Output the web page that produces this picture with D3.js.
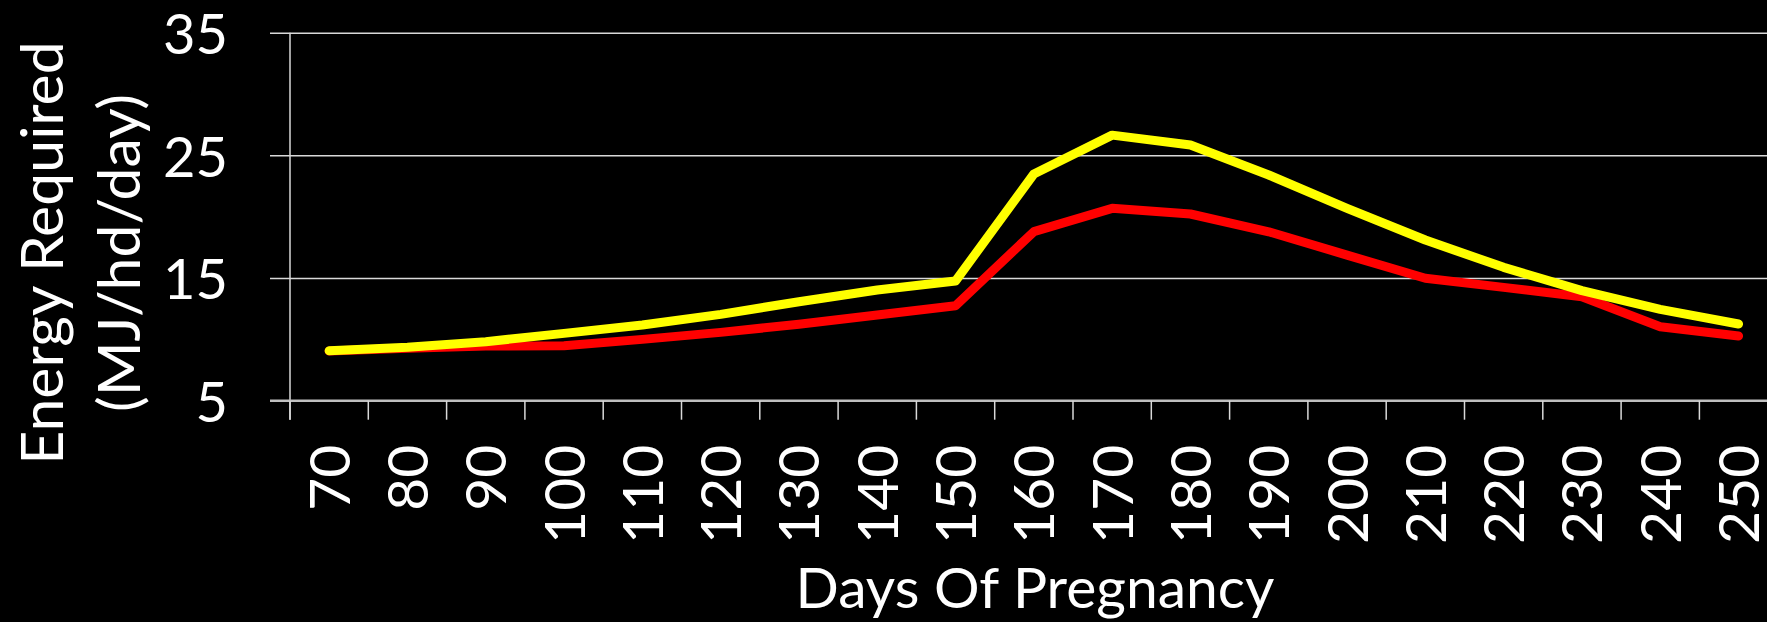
<!DOCTYPE html>
<html>
<head>
<meta charset="utf-8">
<script src="https://cdn.jsdelivr.net/npm/d3@7"></script>
<style>
  html, body { margin: 0; padding: 0; background: #000; overflow: hidden; }
  .chart text { font-family: Lato, "Open Sans", sans-serif; fill: #fff; }
</style>
</head>
<body>
<div class="chart"></div>
<script>
// days of pregnancy (categories)
var days = [70, 80, 90, 100, 110, 120, 130, 140, 150, 160, 170, 180, 190, 200, 210, 220, 230, 240, 250];

// energy required, MJ/hd/day
var yellowSeries = [9.07, 9.35, 9.81, 10.49, 11.17, 12.04, 13.07, 14.02, 14.76, 23.48, 26.65, 25.84, 23.4, 20.68, 18.1, 15.87, 13.97, 12.45, 11.25];
var redSeries = [9.05, 9.27, 9.46, 9.48, 10.0, 10.57, 11.23, 11.98, 12.74, 18.78, 20.68, 20.22, 18.77, 16.87, 14.98, 14.24, 13.48, 11.03, 10.27];

var yTicks = [5, 15, 25, 35];

var svgWidth = 1767;
var svgHeight = 622;

var margin = { top: 32.7, left: 290 };
var plotHeight = 368;
var bandW = 78.3;
var plotWidth = bandW * days.length;

var svg = d3.select(".chart")
  .append("svg")
  .attr("width", svgWidth)
  .attr("height", svgHeight);

var chart = svg.append("g")
  .attr("transform", "translate(" + margin.left + "," + margin.top + ")");

var xScale = d3.scaleBand()
  .domain(days)
  .range([0, plotWidth])
  .padding(0);

var yScale = d3.scaleLinear()
  .domain([5, 35])
  .range([plotHeight, 0]);

// gridlines + y labels
var leftAxis = d3.axisLeft(yScale)
  .tickValues(yTicks)
  .tickSize(-(plotWidth + 20))
  .tickPadding(42);

var yAxisG = chart.append("g")
  .attr("transform", "translate(-20,0)")
  .call(leftAxis);
yAxisG.select(".domain").remove();
yAxisG.selectAll(".tick line")
  .attr("stroke", "#d9d9d9")
  .attr("stroke-width", 1.5);
yAxisG.selectAll(".tick text")
  .attr("font-size", 56)
  .attr("dy", "0.37em");

// vertical axis line
chart.append("line")
  .attr("x1", 0).attr("x2", 0)
  .attr("y1", 0).attr("y2", plotHeight + 19)
  .attr("stroke", "#d9d9d9")
  .attr("stroke-width", 1.5);

// bottom axis line
chart.append("line")
  .attr("x1", -20).attr("x2", plotWidth)
  .attr("y1", plotHeight).attr("y2", plotHeight)
  .attr("stroke", "#bfbfbf")
  .attr("stroke-width", 2.5);

// category boundary ticks
chart.selectAll(".xtick")
  .data(days)
  .enter().append("line")
  .attr("class", "xtick")
  .attr("x1", function (d) { return xScale(d); })
  .attr("x2", function (d) { return xScale(d); })
  .attr("y1", plotHeight)
  .attr("y2", plotHeight + 19)
  .attr("stroke", "#d9d9d9")
  .attr("stroke-width", 1.5);

// x labels rotated
chart.selectAll(".xlabel")
  .data(days)
  .enter().append("text")
  .attr("class", "xlabel")
  .attr("transform", function (d) {
    return "translate(" + (xScale(d) + xScale.bandwidth() / 2) + "," + (plotHeight + 44) + ") rotate(-90)";
  })
  .attr("text-anchor", "end")
  .attr("dy", "0.36em")
  .attr("font-size", 57)
  .text(function (d) { return d; });

var line = d3.line()
  .x(function (d, i) { return xScale(days[i]) + xScale.bandwidth() / 2; })
  .y(function (d) { return yScale(d); });

chart.append("path")
  .datum(redSeries)
  .attr("fill", "none")
  .attr("stroke", "#ff0000")
  .attr("stroke-width", 9)
  .attr("stroke-linecap", "round")
  .attr("stroke-linejoin", "round")
  .attr("d", line);

chart.append("path")
  .datum(yellowSeries)
  .attr("fill", "none")
  .attr("stroke", "#ffff00")
  .attr("stroke-width", 9)
  .attr("stroke-linecap", "round")
  .attr("stroke-linejoin", "round")
  .attr("d", line);

// axis titles
svg.append("text")
  .attr("transform", "translate(63,253) rotate(-90)")
  .attr("text-anchor", "middle")
  .attr("font-size", 59)
  .text("Energy Required");

svg.append("text")
  .attr("transform", "translate(140,253) rotate(-90)")
  .attr("text-anchor", "middle")
  .attr("font-size", 59)
  .text("(MJ/hd/day)");

svg.append("text")
  .attr("x", 1035)
  .attr("y", 608)
  .attr("text-anchor", "middle")
  .attr("font-size", 57)
  .text("Days Of Pregnancy");
</script>
</body>
</html>
